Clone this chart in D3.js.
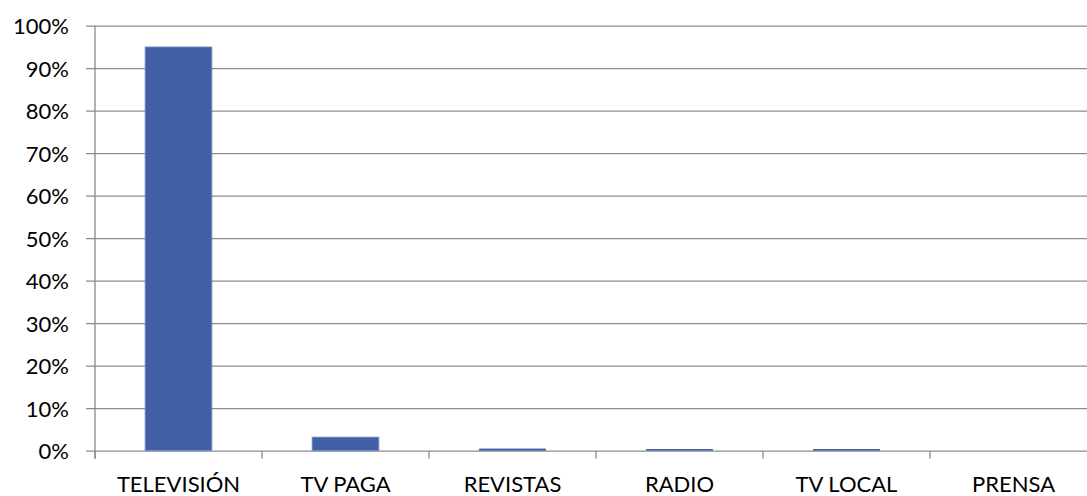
<!DOCTYPE html>
<html>
<head>
<meta charset="utf-8">
<script src="https://cdn.jsdelivr.net/npm/d3@7"></script>
<style>
  html, body { margin: 0; padding: 0; background: #fff; }
  svg { display: block; }
  text { font-family: Lato, "Open Sans", sans-serif; fill: #000; }
</style>
</head>
<body>
<svg id="chart" width="1087" height="496"></svg>
<script>
const categories = ["TELEVISIÓN", "TV PAGA", "REVISTAS", "RADIO", "TV LOCAL", "PRENSA"];
const shares = [0.95, 0.032, 0.005, 0.004, 0.004, 0];
const yTicks = [0, 0.1, 0.2, 0.3, 0.4, 0.5, 0.6, 0.7, 0.8, 0.9, 1.0];

const svg = d3.select("#chart");
const plotLeft = 95, plotRight = 1097, plotTop = 25.7, plotBottom = 450.7;
const gridColor = "#8c8c8c";
const fontSize = 22;

const x = d3.scaleBand().domain(categories).range([plotLeft, plotRight]);
const y = d3.scaleLinear().domain([0, 1]).range([plotBottom, plotTop]);

// y axis: gridlines across the plot plus outward ticks
const yAxis = svg.append("g")
  .attr("transform", `translate(${plotLeft},0)`)
  .call(d3.axisLeft(y).tickValues(yTicks).tickFormat(d3.format(".0%"))
    .tickSizeInner(-(plotRight - plotLeft)).tickSizeOuter(0).tickPadding(26));
yAxis.select(".domain").remove();
yAxis.selectAll(".tick line")
  .attr("x1", -9)
  .attr("stroke", gridColor).attr("stroke-width", 1.3);
yAxis.selectAll(".tick text")
  .attr("font-family", "Lato, 'Open Sans', sans-serif")
  .attr("font-size", fontSize).attr("fill", "#000")
  .attr("dy", "0.36em");

// vertical axis line
svg.append("line")
  .attr("x1", plotLeft).attr("x2", plotLeft)
  .attr("y1", plotTop).attr("y2", plotBottom + 8)
  .attr("stroke", gridColor).attr("stroke-width", 1.3);

// category boundary ticks
const bounds = categories.map(c => x(c)).concat([plotRight]);
svg.append("g").selectAll("line").data(bounds).join("line")
  .attr("x1", d => d).attr("x2", d => d)
  .attr("y1", plotBottom).attr("y2", plotBottom + 8)
  .attr("stroke", gridColor).attr("stroke-width", 1.3);

// bars
const barW = x.bandwidth() * 0.4;
svg.append("g").selectAll("rect").data(categories).join("rect")
  .attr("x", c => x(c) + (x.bandwidth() - barW) / 2)
  .attr("width", barW)
  .attr("y", (c, i) => y(shares[i]))
  .attr("height", (c, i) => plotBottom - y(shares[i]))
  .attr("fill", "#4160a8")
  .attr("stroke", "#7b93c9").attr("stroke-width", (c, i) => shares[i] > 0.01 ? 0.8 : 0);

// category labels
const xAxis = svg.append("g")
  .attr("transform", `translate(0,${plotBottom})`)
  .call(d3.axisBottom(x).tickSize(0).tickPadding(0));
xAxis.select(".domain").remove();
xAxis.selectAll(".tick text")
  .attr("font-family", "Lato, 'Open Sans', sans-serif")
  .attr("font-size", fontSize).attr("fill", "#000")
  .attr("y", 492 - plotBottom).attr("dy", null);
</script>
</body>
</html>
